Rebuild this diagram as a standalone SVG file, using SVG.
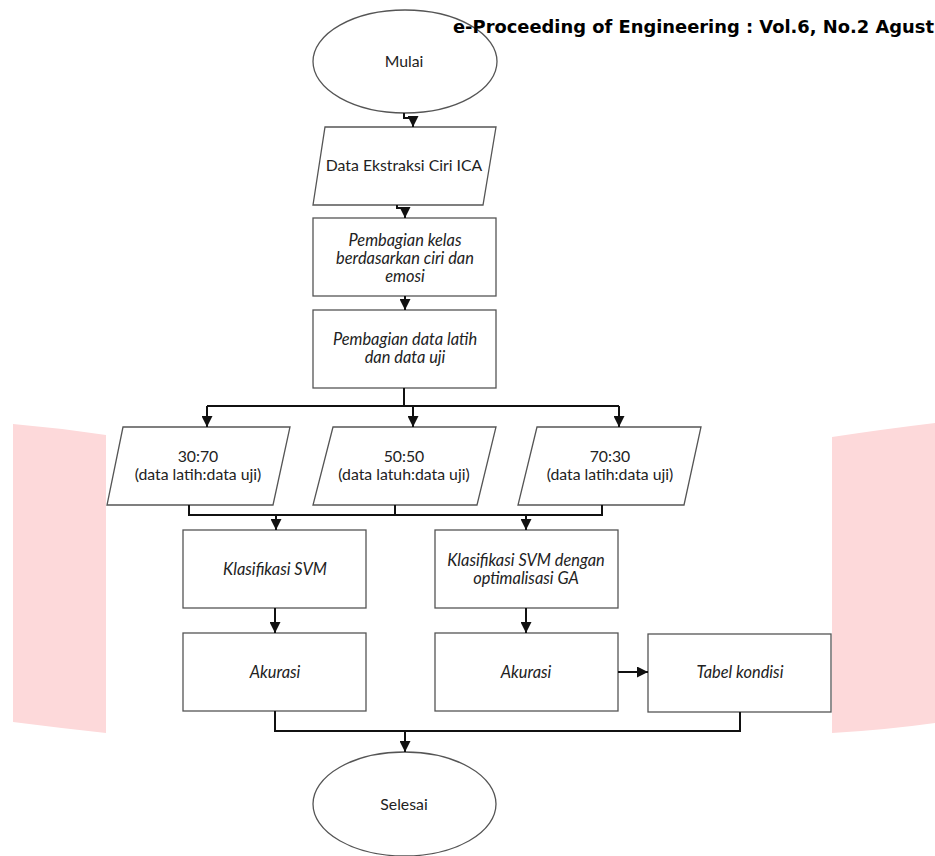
<svg xmlns="http://www.w3.org/2000/svg" width="935" height="856" viewBox="0 0 935 856">
  <defs>
    <marker id="arr" viewBox="0 0 10 10" refX="10" refY="5" markerWidth="11" markerHeight="11" markerUnits="userSpaceOnUse" orient="auto">
      <path d="M0,0 L10,5 L0,10 Z" fill="#111"/>
    </marker>
  </defs>
  <style>
    .shape { fill: #fff; stroke: #555; stroke-width: 1.3; }
    .lbl { font-family: Lato, "Open Sans", sans-serif; font-size: 15.8px; fill: #222; text-anchor: middle; }
    .it { font-style: italic; font-size: 16.4px; }
    .conn path { fill: none; stroke: #111; stroke-width: 2; }
    .band { fill: #fdd9da; }
    .hdr { font-family: "DejaVu Sans", sans-serif; font-weight: bold; font-size: 17.5px; fill: #000; }
  </style>
  <rect width="935" height="856" fill="#fff"/>
  <path class="band" d="M13,424 Q60,428 106,435 V733 Q60,728 13,722 Z"/>
  <path class="band" d="M832,437 Q885,429 935,423 V723 Q885,730 832,733 Z"/>

  <g id="mulai">
    <ellipse class="shape" cx="405" cy="61.5" rx="92" ry="51.5"/>
    <text class="lbl" x="404" y="67">Mulai</text>
  </g>
  <g id="data-ekstraksi">
    <polygon class="shape" points="325,127 496,127 483,205 313,205"/>
    <text class="lbl" x="404" y="171">Data Ekstraksi Ciri ICA</text>
  </g>
  <g id="pembagian-kelas">
    <rect class="shape" x="313" y="218" width="183" height="78"/>
    <text class="lbl it" x="405" y="246">Pembagian kelas</text>
    <text class="lbl it" x="405" y="264">berdasarkan ciri dan</text>
    <text class="lbl it" x="405" y="282">emosi</text>
  </g>
  <g id="pembagian-data">
    <rect class="shape" x="313" y="310" width="183" height="78"/>
    <text class="lbl it" x="405" y="345">Pembagian data latih</text>
    <text class="lbl it" x="405" y="363">dan data uji</text>
  </g>
  <g id="r3070">
    <polygon class="shape" points="123,427 290,427 273,505 107,505"/>
    <text class="lbl" x="198" y="462">30:70</text>
    <text class="lbl" x="198" y="480">(data latih:data uji)</text>
  </g>
  <g id="r5050">
    <polygon class="shape" points="333,427 496,427 477,505 313,505"/>
    <text class="lbl" x="404" y="462">50:50</text>
    <text class="lbl" x="404" y="480">(data latuh:data uji)</text>
  </g>
  <g id="r7030">
    <polygon class="shape" points="537,427 701,427 684,505 518,505"/>
    <text class="lbl" x="610" y="462">70:30</text>
    <text class="lbl" x="610" y="480">(data latih:data uji)</text>
  </g>
  <g id="svm">
    <rect class="shape" x="183" y="530" width="183" height="78"/>
    <text class="lbl it" x="275" y="575">Klasifikasi SVM</text>
  </g>
  <g id="svm-ga">
    <rect class="shape" x="435" y="530" width="183" height="78"/>
    <text class="lbl it" x="526" y="566">Klasifikasi SVM dengan</text>
    <text class="lbl it" x="526" y="584">optimalisasi GA</text>
  </g>
  <g id="akurasi1">
    <rect class="shape" x="183" y="633" width="183" height="78"/>
    <text class="lbl it" x="275" y="678">Akurasi</text>
  </g>
  <g id="akurasi2">
    <rect class="shape" x="435" y="633" width="183" height="78"/>
    <text class="lbl it" x="526" y="678">Akurasi</text>
  </g>
  <g id="tabel">
    <rect class="shape" x="648" y="634" width="183" height="78"/>
    <text class="lbl it" x="740" y="678">Tabel kondisi</text>
  </g>
  <g id="selesai">
    <ellipse class="shape" cx="404.5" cy="804" rx="91.5" ry="52"/>
    <text class="lbl" x="404" y="810">Selesai</text>
  </g>

  <g class="conn" id="connectors">
    <path d="M404,113 V118 H413 V127" marker-end="url(#arr)"/>
    <path d="M397,205 V208 H405 V218" marker-end="url(#arr)"/>
    <path d="M405,296 V310" marker-end="url(#arr)"/>
    <path d="M404,388 V406"/>
    <path d="M207,406 H619"/>
    <path d="M207,406 V427" marker-end="url(#arr)"/>
    <path d="M413,406 V427" marker-end="url(#arr)"/>
    <path d="M619,406 V427" marker-end="url(#arr)"/>
    <path d="M189,505 V515 H602 V505"/>
    <path d="M395,505 V515"/>
    <path d="M276,515 V530" marker-end="url(#arr)"/>
    <path d="M526,515 V530" marker-end="url(#arr)"/>
    <path d="M275,608 V633" marker-end="url(#arr)"/>
    <path d="M526,608 V633" marker-end="url(#arr)"/>
    <path d="M618,672 H648" marker-end="url(#arr)"/>
    <path d="M275,711 V731 H740 V712"/>
    <path d="M405,731 V752" marker-end="url(#arr)"/>
  </g>

  <text class="hdr" x="453" y="33" textLength="481" lengthAdjust="spacingAndGlyphs">e-Proceeding of Engineering : Vol.6, No.2 Agust</text>
</svg>
